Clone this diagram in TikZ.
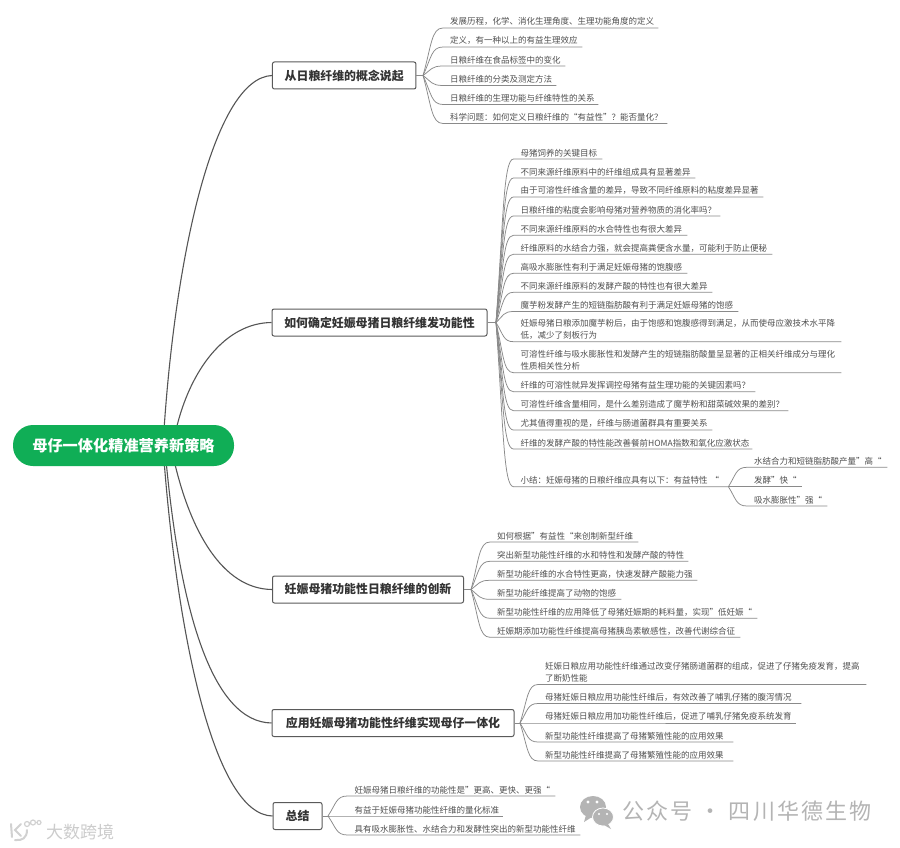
\documentclass[tikz,border=0pt]{standalone}
\usepackage{fontspec}
\setmainfont{Noto Sans CJK SC}
\usetikzlibrary{calc}
\definecolor{rootgreen}{HTML}{10AE56}
\definecolor{linegray}{HTML}{8A8A8A}
\definecolor{txtgray}{HTML}{505050}
\definecolor{boxedge}{HTML}{5A5A5A}
\definecolor{mainline}{HTML}{555555}
\definecolor{wmgray}{HTML}{B4B4B4}
\tikzset{
  rootnode/.style={fill=rootgreen,rounded corners=20pt,text=white,inner sep=0pt,minimum width=221pt,minimum height=41pt,font=\fontsize{15.2}{18}\selectfont\bfseries},
  mainbox/.style={draw=boxedge,line width=1pt,fill=white,rounded corners=2pt,inner sep=0pt,minimum height=27pt,text=black!80,font=\fontsize{11.9}{14}\selectfont\bfseries},
  leafnode/.style={inner xsep=7pt,inner ysep=2pt,anchor=south west,align=left,text=txtgray,font=\fontsize{8.5}{12.3}\selectfont},
  leafline/.style={draw=linegray,line width=0.75pt},
  mainconn/.style={draw=mainline,line width=1.1pt},
}
% \leaf{name}{fork name}{fx}{fy}{x start}{y underline}{x end}{text}
\newcommand{\leaf}[8]{%
  \pgfmathsetmacro{\lw}{#7-#5-14}%
  \node[leafnode,text width=\lw pt] (#1) at (#5,#6) {#8};
  \pgfmathsetmacro{\cax}{#3+0.42*(#5-#3)}%
  \pgfmathsetmacro{\cay}{#4+0.62*(#6-#4)}%
  \pgfmathsetmacro{\cbx}{#3+0.42*(#5-#3)}%
  \draw[leafline] (#2) .. controls (\cax,\cay) and (\cbx,#6) .. (#1.south west) -- (#1.south east);
}
\begin{document}
\begin{tikzpicture}[x=1pt,y=-1pt]
\useasboundingbox[fill=white] (0,0) rectangle (900,848);
% main nodes
\node[mainbox,minimum width=143.5pt] (b1) at (344.2,75.5) {从日粮纤维的概念说起};
\node[mainbox,minimum width=215pt] (b2) at (379.5,322.5) {如何确定妊娠母猪日粮纤维发功能性};
\node[mainbox,minimum width=191pt] (b3) at (368,589.5) {妊娠母猪功能性日粮纤维的创新};
\node[mainbox,minimum width=242pt] (b4) at (393,723) {应用妊娠母猪功能性纤维实现母仔一体化};
\node[mainbox,minimum width=49pt] (b5) at (297.5,816) {总结};
\coordinate (r1) at (164,430);
\coordinate (r2) at (176,430);
\coordinate (r3) at (174,460);
\coordinate (r4) at (166,460);
\coordinate (r5) at (164,460);
\draw[mainconn] (r1) .. controls (176,250) and (215,78) .. (b1.west);
\draw[mainconn] (r2) .. controls (190,370) and (225,323) .. (b2.west);
\draw[mainconn] (r3) .. controls (190,530) and (222,589) .. (b3.west);
\draw[mainconn] (r4) .. controls (180,610) and (212,722) .. (b4.west);
\draw[mainconn] (r5) .. controls (178,640) and (215,815) .. (b5.west);
\node[rootnode] (root) at (123.5,445.5) {母仔一体化精准营养新策略};
% forks
\coordinate (f1) at (423,75.5);
\coordinate (f2) at (496,322.5);
\coordinate (f3) at (471,589.5);
\coordinate (f4) at (520,723);
\coordinate (f5) at (328,816);
\draw[leafline] (b1.east) -- (f1);
\draw[leafline] (b2.east) -- (f2);
\draw[leafline] (b3.east) -- (f3);
\draw[leafline] (b4.east) -- (f4);
\draw[leafline] (b5.east) -- (f5);
% branch 1
\leaf{a1}{f1}{423}{75.5}{443}{28}{658}{发展历程，化学、消化生理角度、生理功能角度的定义}
\leaf{a2}{f1}{423}{75.5}{443}{47}{582}{定义，有一种以上的有益生理效应}
\leaf{a3}{f1}{423}{75.5}{443}{66}{565}{日粮纤维在食品标签中的变化}
\leaf{a4}{f1}{423}{75.5}{443}{85.5}{556}{日粮纤维的分类及测定方法}
\leaf{a5}{f1}{423}{75.5}{443}{104.5}{598}{日粮纤维的生理功能与纤维特性的关系}
\leaf{a6}{f1}{423}{75.5}{443}{123.5}{667}{科学问题：如何定义日粮纤维的“有益性”？能否量化？}
% branch 2
\leaf{c1}{f2}{496}{322.5}{513.5}{159}{602}{母猪饲养的关键目标}
\leaf{c2}{f2}{496}{322.5}{513.5}{178}{695}{不同来源纤维原料中的纤维组成具有显著差异}
\leaf{c3}{f2}{496}{322.5}{513.5}{197}{763}{由于可溶性纤维含量的差异，导致不同纤维原料的粘度差异显著}
\leaf{c4}{f2}{496}{322.5}{513.5}{216}{720}{日粮纤维的粘度会影响母猪对营养物质的消化率吗？}
\leaf{c5}{f2}{496}{322.5}{513.5}{235.3}{687}{不同来源纤维原料的水合特性也有很大差异}
\leaf{c6}{f2}{496}{322.5}{513.5}{254.3}{772}{纤维原料的水结合力强，就会提高粪便含水量，可能利于防止便秘}
\leaf{c7}{f2}{496}{322.5}{513.5}{273.3}{687}{高吸水膨胀性有利于满足妊娠母猪的饱腹感}
\leaf{c8}{f2}{496}{322.5}{513.5}{292.3}{712}{不同来源纤维原料的发酵产酸的特性也有很大差异}
\leaf{c9}{f2}{496}{322.5}{513.5}{311.5}{738}{魔芋粉发酵产生的短链脂肪酸有利于满足妊娠母猪的饱感}
\leaf{c10}{f2}{496}{322.5}{513.5}{341.7}{841}{妊娠母猪日粮添加魔芋粉后，由于饱感和饱腹感得到满足，从而使母应激技术水平降\\低，减少了刻板行为}
\leaf{c11}{f2}{496}{322.5}{513.5}{372.7}{841}{可溶性纤维与吸水膨胀性和发酵产生的短链脂肪酸量呈显著的正相关纤维成分与理化\\性质相关性分析}
\leaf{c12}{f2}{496}{322.5}{513.5}{391.7}{755}{纤维的可溶性就异发挥调控母猪有益生理功能的关键因素吗？}
\leaf{c13}{f2}{496}{322.5}{513.5}{410.7}{788}{可溶性纤维含量相同，是什么差别造成了魔芋粉和甜菜碱效果的差别？}
\leaf{c14}{f2}{496}{322.5}{513.5}{430}{712}{尤其值得重视的是，纤维与肠道菌群具有重要关系}
\leaf{c15}{f2}{496}{322.5}{513.5}{449}{752}{纤维的发酵产酸的特性能改善餐前HOMA指数和氧化应激状态}
\leaf{c16}{f2}{496}{322.5}{513.5}{486.7}{728}{小结：妊娠母猪的日粮纤维应具有以下：有益特性 “}
\coordinate (f6) at (c16.south east);
\leaf{d1}{f6}{728}{486.7}{747}{467.3}{887}{水结合力和短链脂肪酸产量”高“}
\leaf{d2}{f6}{728}{486.7}{747}{486.7}{802}{发酵”快“}
\leaf{d3}{f6}{728}{486.7}{747}{506}{827}{吸水膨胀性”强“}
% branch 3
\leaf{e1}{f3}{471}{589.5}{490}{542}{638}{如何根据”有益性“来创制新型纤维}
\leaf{e2}{f3}{471}{589.5}{490}{561.3}{688}{突出新型功能性纤维的水和特性和发酵产酸的特性}
\leaf{e3}{f3}{471}{589.5}{490}{580.3}{697}{新型功能纤维的水合特性更高，快速发酵产酸能力强}
\leaf{e4}{f3}{471}{589.5}{490}{599.3}{621}{新型功能纤维提高了动物的饱感}
\leaf{e5}{f3}{471}{589.5}{490}{618.3}{757}{新型功能性纤维的应用降低了母猪妊娠期的耗料量，实现”低妊娠“}
\leaf{e6}{f3}{471}{589.5}{490}{637.3}{740}{妊娠期添加功能性纤维提高母猪胰岛素敏感性，改善代谢综合征}
% branch 4
\leaf{g1}{f4}{520}{723}{538}{684.5}{866}{妊娠日粮应用功能性纤维通过改变仔猪肠道菌群的组成，促进了仔猪免疫发育，提高\\了断奶性能}
\leaf{g2}{f4}{520}{723}{538}{703.5}{801}{母猪妊娠日粮应用功能性纤维后，有效改善了哺乳仔猪的腹泻情况}
\leaf{g3}{f4}{520}{723}{538}{723}{796}{母猪妊娠日粮应用加功能性纤维后，促进了哺乳仔猪免疫系统发育}
\leaf{g4}{f4}{520}{723}{538}{742}{733}{新型功能性纤维提高了母猪繁殖性能的应用效果}
\leaf{g5}{f4}{520}{723}{538}{761}{733}{新型功能性纤维提高了母猪繁殖性能的应用效果}
% branch 5
\leaf{h1}{f5}{328}{816}{347.5}{796}{555}{妊娠母猪日粮纤维的功能性是”更高、更快、更强“}
\leaf{h2}{f5}{328}{816}{347.5}{816}{503}{有益于妊娠母猪功能性纤维的量化标准}
\leaf{h3}{f5}{328}{816}{347.5}{835}{580}{具有吸水膨胀性、水结合力和发酵性突出的新型功能性纤维}
% watermarks
\fill[wmgray] (593,807) ellipse (13pt and 11pt);
\fill[wmgray] (586,815) -- (584,822) -- (592,817) -- cycle;
\fill[wmgray,draw=white,line width=0.8pt] (603,817) ellipse (10.5pt and 9pt);
\fill[wmgray] (608,824) -- (611,829) -- (604,825) -- cycle;
\fill[white] (588,802) circle (1.6pt) (597,802) circle (1.6pt) (599,814) circle (1.2pt) (607,814) circle (1.2pt);
\node[anchor=west,text=wmgray,inner sep=0pt,font=\fontsize{22}{24}\selectfont\addfontfeatures{LetterSpace=10}] (wm) at (622,811) {公众号 · 四川华德生物};
\node[anchor=west,text=black!20,inner sep=0pt,font=\fontsize{17}{19}\selectfont] (wm2) at (46,832) {大数跨境};
\draw[black!18,line width=2pt,line cap=round] (11,824) -- (12,837) (27,830) .. controls (27,838) and (22,841) .. (15,840) (21,824) -- (15,830) -- (21,836);
\draw[black!18,line width=1.2pt] (27,824) circle (2.5pt) (33,822.5) circle (2.5pt) (39,822.5) circle (2pt);
\end{tikzpicture}
\end{document}
